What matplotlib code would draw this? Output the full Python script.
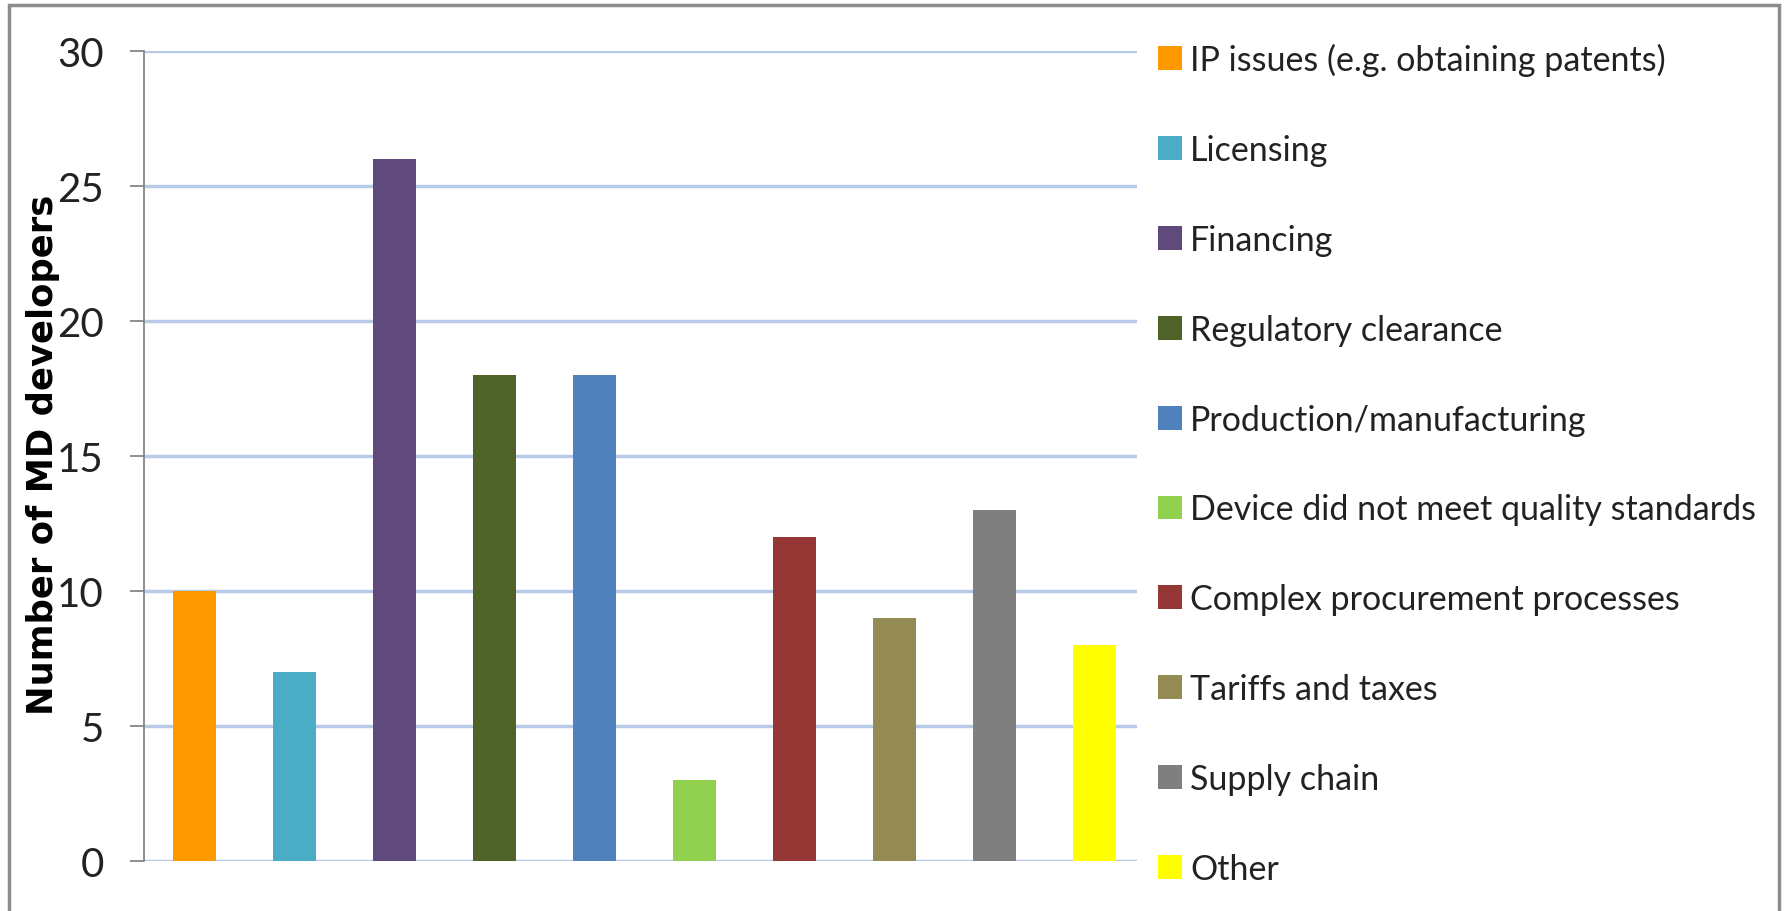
import matplotlib
matplotlib.use("Agg")
import matplotlib.pyplot as plt
from matplotlib.patches import Rectangle

# data
categories = ["IP issues (e.g. obtaining patents)", "Licensing", "Financing",
              "Regulatory clearance", "Production/manufacturing",
              "Device did not meet quality standards",
              "Complex procurement processes", "Tariffs and taxes",
              "Supply chain", "Other"]
counts = [10, 7, 26, 18, 18, 3, 12, 9, 13, 8]
bar_colors = ["#FF9900", "#4BACC6", "#604A7B", "#4F6228", "#4F81BD",
              "#92D050", "#953735", "#948A54", "#7F7F7F", "#FFFF00"]
yticks = [0, 5, 10, 15, 20, 25, 30]

plt.rcParams['font.family'] = ['Lato', 'DejaVu Sans']

W, H = 1785, 912
fig = plt.figure(figsize=(W / 100, H / 100), dpi=100)
fig.patch.set_facecolor("white")

# outer frame (bottom edge is cropped off in the original)
fig.add_artist(Rectangle((9 / W, -0.05), (1779 - 9) / W, 1.05 - 6 / H,
                         transform=fig.transFigure, fill=False,
                         edgecolor="#8C8C8C", linewidth=2.5))

ax = fig.add_axes([144 / W, 1 - 862 / H, (1137 - 144) / W, (862 - 52) / H])
xs = list(range(len(counts)))
bars = ax.bar(xs, counts, width=0.43, color=bar_colors, zorder=3)

# ~100 px per category, axis ends a bit before the last slot
ax.set_xlim(-0.5, 9.43)
ax.set_ylim(0, 30)
ax.set_yticks(yticks)
for y in yticks:
    ax.axhline(y, color="#B7CAE8", linewidth=2.5, zorder=1)

for s in ["top", "right", "bottom"]:
    ax.spines[s].set_visible(False)
ax.spines["left"].set_color("#868686")
ax.spines["left"].set_linewidth(1.3)
ax.set_xticks([])
ax.tick_params(axis="y", direction="out", length=10, width=1.3,
               color="#868686", labelsize=29, pad=19, labelcolor="#222222")

fig.text(43 / W, 1 - 455 / H, "Number of MD developers", rotation=90,
         ha="center", va="center", fontsize=25.5, fontweight="bold",
         family="DejaVu Sans")

leg = ax.legend(bars, categories, loc="upper left",
                bbox_to_anchor=(1158 / W, 1 - 44 / H),
                bbox_transform=fig.transFigure, frameon=False,
                fontsize=24.5, handlelength=0.7, handleheight=0.7,
                handletextpad=0.25, labelspacing=1.7, borderpad=0,
                borderaxespad=0)
for t in leg.get_texts():
    t.set_color("#222222")

fig.savefig("out.png", dpi=100)
